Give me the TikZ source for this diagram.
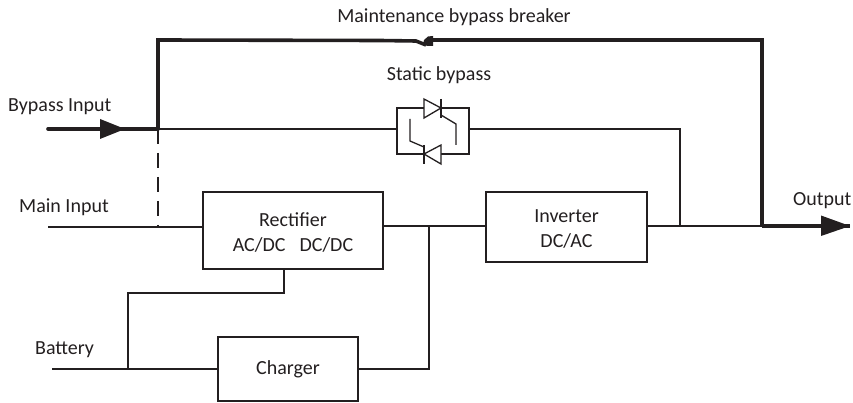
\documentclass[tikz,border=0pt]{standalone}
\usepackage{fontspec}
\setmainfont{Carlito}
\definecolor{ink}{HTML}{231F20}
\tikzset{
  wire/.style={draw=ink,line width=1.3pt},
  thick wire/.style={draw=ink,line width=3.6pt},
  block/.style={draw=ink,line width=1.3pt,fill=white,align=center,inner sep=0pt,font=\fontsize{20}{24}\selectfont\color{ink}},
  lbl/.style={inner sep=0pt,font=\fontsize{20}{24}\selectfont\color{ink}},
  triang/.style={fill=ink,draw=none}
}
\begin{document}
\begin{tikzpicture}[x=1pt,y=-1pt]
\useasboundingbox (0,0) rectangle (853,403);
% text
\node[lbl,anchor=base] (lmb) at (454,23) {Maintenance bypass breaker};
\node[lbl,anchor=base] (lsb) at (439,81) {Static bypass};
\node[lbl,anchor=base west] (lbi) at (8,112) {Bypass Input};
\node[lbl,anchor=base west] (lmi) at (19,213) {Main Input};
\node[lbl,anchor=base west] (lbat) at (35,354) {Battery};
\node[lbl,anchor=base west] (lout) at (793,206) {Output};
% blocks
\node[block,minimum width=180pt,minimum height=77pt] (rect) at (293,230.5) {\rule{0pt}{17pt}Rectifier\\[1pt]AC/DC\hspace{0.7em}DC/DC};
\node[block,minimum width=161pt,minimum height=70pt] (inv) at (566.5,227) {\rule{0pt}{17pt}Inverter\\[1pt]DC/AC};
\node[block,minimum width=140pt,minimum height=64pt] (chg) at (288,369) {Charger};
% junctions and free ends
\coordinate (bi0) at (48,129);
\coordinate (bj) at (158,129);
\coordinate (tl) at (158,40);
\coordinate (tr) at (762,40);
\coordinate (oj) at (762,226);
\coordinate (oe) at (850,226);
\coordinate (mi0) at (48,227);
\coordinate (mj) at (158,227);
\coordinate (sl) at (397,129);
\coordinate (sr) at (469,129);
\coordinate (sj) at (680,129);
\coordinate (sjb) at (680,226);
\coordinate (dj) at (429,226);
\coordinate (bat0) at (52,369);
\coordinate (batj) at (128,369);
\coordinate (batu) at (128,293);
\coordinate (batr) at (284,293);
\coordinate (dcb) at (429,369);
% thin wires
\draw[wire] (mi0) -- (rect.west |- mi0);
\draw[wire] (rect.east |- dj) -- (inv.west |- dj);
\draw[wire] (inv.east |- sjb) -- (oj);
\draw[wire] (bj) -- (sl);
\draw[wire] (sr) -- (sj) -- (sjb);
\draw[wire,dash pattern=on 15pt off 9pt] (bj) -- (mj);
\draw[wire] (dj) -- (dcb) -- (chg.east |- dcb);
\draw[wire] (bat0) -- (chg.west |- bat0);
\draw[wire] (batj) -- (batu) -- (batr) -- (rect.south -| batr);
% thick wires
\draw[thick wire,line cap=round] (bi0) -- (bj);
\draw[thick wire,line join=miter] (bj) -- (tl) -- (380,40.5) -- (416,41) -- (426,45);
\draw[thick wire,line join=miter] (430,40) -- (tr) -- (oj);
\draw[thick wire] (oj) -- (oe);
\fill[ink] (433,36) -- (428,36.5) -- (424,40) -- (423,45) -- (428,46) -- (433,46) -- cycle;
% arrow heads
\fill[triang] (100,119) -- (125,129) -- (100,139) -- cycle;
\fill[triang] (821,215.5) -- (850,226) -- (821,236) -- cycle;
% static switch
\draw[wire] (397,108) rectangle (469,154);
\draw[wire,fill=white] (424,99) -- (441,108) -- (424,118) -- cycle;
\draw[wire] (441,99) -- (441,118);
\draw[wire,fill=white] (441,145) -- (424,154) -- (441,164) -- cycle;
\draw[wire] (424,145) -- (424,164);
\draw[wire] (441,115) -- (456,124) -- (456,145);
\draw[wire] (424,147) -- (410,141) -- (410,119);
\end{tikzpicture}
\end{document}
